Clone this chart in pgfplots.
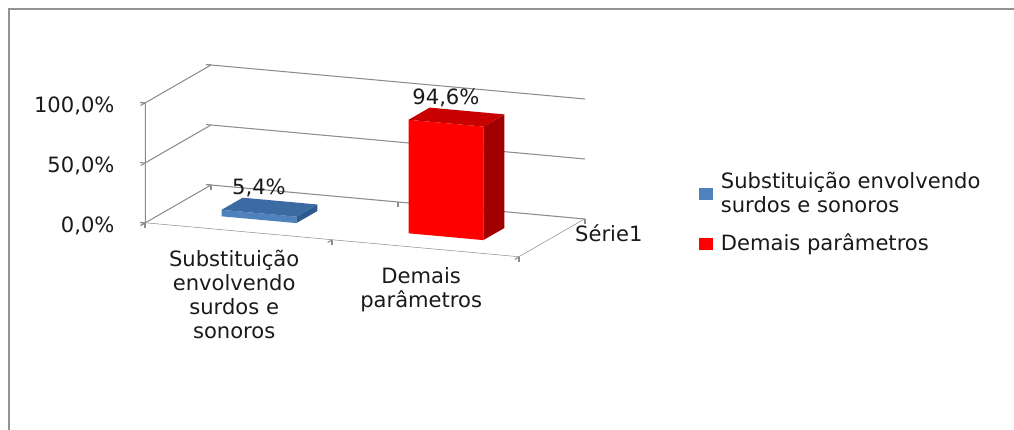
\documentclass[border=0pt]{standalone}
\usepackage{fontspec}
\setmainfont{DejaVu Sans}
\usepackage{pgfplots}
\pgfplotsset{compat=1.18}
\definecolor{blueF}{HTML}{4F81BD}
\definecolor{blueT}{HTML}{3C6AA3}
\definecolor{blueS}{HTML}{2E5A8E}
\definecolor{redF}{HTML}{FF0000}
\definecolor{redT}{HTML}{C80000}
\definecolor{redS}{HTML}{A00000}
\definecolor{gridc}{HTML}{8C8C8C}
\definecolor{txt}{HTML}{1A1A1A}
\begin{document}
\begin{tikzpicture}[font=\fontsize{12}{13.6}\selectfont]
\useasboundingbox (0,0) rectangle (20.28cm,8.6cm);
\draw[gray!85, line width=0.8pt] (0.18cm,0) -- (0.18cm,8.42cm) -- (20.4cm,8.42cm);
\begin{axis}[
  at={(4.77cm,3.97cm)}, anchor=origin,
  x={(3.74cm,-0.34cm)}, y={(1.32cm,0.76cm)}, z={(0cm,0.024cm)},
  disabledatascaling,
  xmin=-0.5, xmax=1.5, ymin=0, ymax=1, zmin=0, zmax=100,
  axis line style={draw=none},
  zmajorgrids, grid style={gridc, line width=0.6pt},
  tick pos=left,
  xtick={0,1},
  xticklabels={{Substituição\\envolvendo\\surdos e\\sonoros},{Demais\\parâmetros}},
  minor xtick={-0.5,0.5,1.5},
  ytick={0.5}, yticklabels={Série1}, minor ytick={0,1},
  ztick={0,50,100}, zticklabels={{0,0\%},{50,0\%},{100,0\%}},
  major x tick style={draw=none}, major y tick style={draw=none},
  major tick style={gridc, line width=0.6pt}, minor tick style={gridc, line width=0.6pt},
  tick align=outside, major tick length=0.1cm, minor tick length=0.1cm,
  tick label style={text=txt, font=\fontsize{12}{13.6}\selectfont},
  xticklabel style={anchor=north, align=center, yshift=-0.2cm},
  yticklabel style={anchor=west, xshift=0.24cm, yshift=0.1cm},
  zticklabel style={anchor=east, xshift=-0.4cm},
  legend style={draw=none, fill=none, at={(axis description cs:1.2455,0.481)}, anchor=north west,
    cells={anchor=west, align=left}, row sep=0.24cm, text=txt,
    /tikz/every odd column/.append style={column sep=0.1cm},
    font=\fontsize{12}{13.6}\selectfont},
  legend cell align=left,
]
\draw[gridc, line width=0.6pt] (axis cs:-0.5,0,0) -- (axis cs:1.5,0,0) -- (axis cs:1.5,1,0);
\draw[gridc, line width=0.6pt] (axis cs:-0.5,0,0) -- (axis cs:-0.5,0,100);
% blue bar, 5.4
\addplot3[fill=blueF, draw=none, forget plot] coordinates {(-0.2,0.31,0) (0.2,0.31,0) (0.2,0.31,5.4) (-0.2,0.31,5.4)};
\addplot3[fill=blueS, draw=none, forget plot] coordinates {(0.2,0.31,0) (0.2,0.63,0) (0.2,0.63,5.4) (0.2,0.31,5.4)};
\addplot3[fill=blueT, draw=none, forget plot] coordinates {(-0.2,0.31,5.4) (0.2,0.31,5.4) (0.2,0.63,5.4) (-0.2,0.63,5.4)};
% red bar, 94.6
\addplot3[fill=redF, draw=none, forget plot] coordinates {(0.8,0.31,0) (1.2,0.31,0) (1.2,0.31,94.6) (0.8,0.31,94.6)};
\addplot3[fill=redS, draw=none, forget plot] coordinates {(1.2,0.31,0) (1.2,0.63,0) (1.2,0.63,94.6) (1.2,0.31,94.6)};
\addplot3[fill=redT, draw=none, forget plot] coordinates {(0.8,0.31,94.6) (1.2,0.31,94.6) (1.2,0.63,94.6) (0.8,0.63,94.6)};
% data labels
\addplot3[draw=none, forget plot, point meta=z,
  nodes near coords={\pgfmathprintnumber[assume math mode=true,fixed,fixed zerofill,precision=1,use comma]{\pgfplotspointmeta}\%},
  nodes near coords style={anchor=south, yshift=0.2cm, text=txt, font=\fontsize{12}{13.6}\selectfont}]
  coordinates {(0,0.31,5.4) (1,0.31,94.6)};
\addlegendimage{legend image code/.code={\fill[blueF] (0cm,-0.11cm) rectangle (0.26cm,0.11cm);}}
\addlegendentry{Substituição envolvendo\\surdos e sonoros}
\addlegendimage{legend image code/.code={\fill[redF] (0cm,-0.11cm) rectangle (0.26cm,0.11cm);}}
\addlegendentry{Demais parâmetros}
\end{axis}
\end{tikzpicture}
\end{document}
